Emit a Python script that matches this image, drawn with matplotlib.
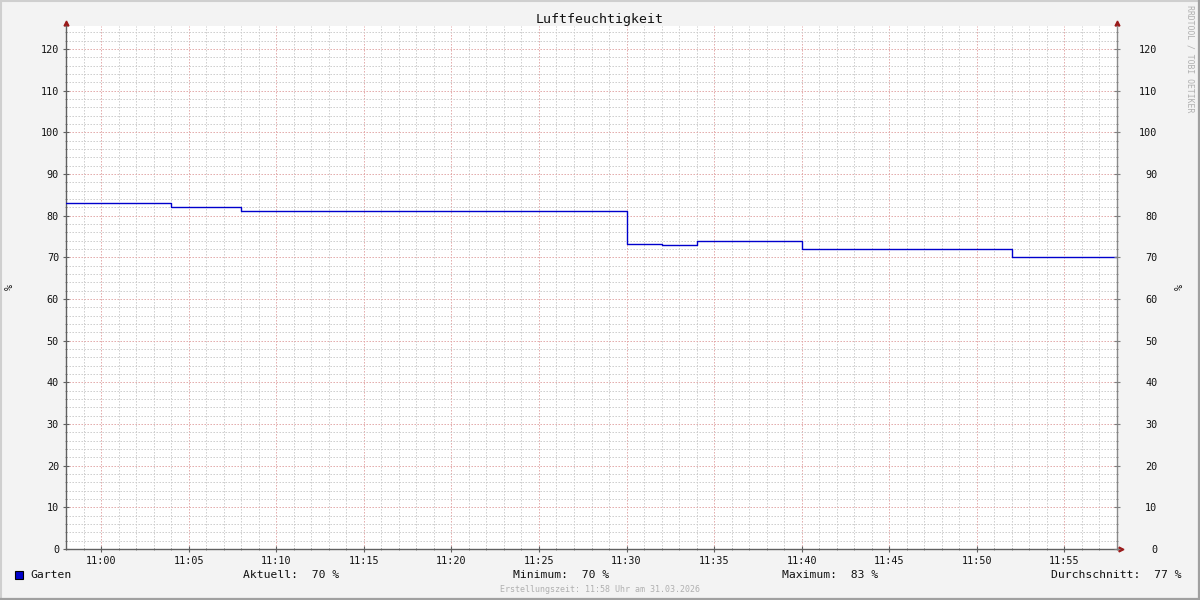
import matplotlib
matplotlib.use("Agg")
import matplotlib.pyplot as plt
import matplotlib.dates as mdates
import matplotlib.transforms as mtransforms
from matplotlib.patches import Rectangle
from matplotlib.ticker import MultipleLocator
import pandas as pd

# ---- data ----
title = "Luftfeuchtigkeit"
series_name = "Garten"
unit = "%"
day = "2026-03-31 "
step_times = ["10:58", "11:04", "11:08", "11:30", "11:32", "11:34", "11:40", "11:52", "11:58"]
step_values = [83.0, 82.0, 81.0, 73.2, 73.0, 73.8, 72.0, 70.0, 70.0]
x_start, x_end = "10:58", "11:58"
y_max = 125.5
stat_labels = ["Aktuell:", "Minimum:", "Maximum:", "Durchschnitt:"]
footer = "Erstellungszeit: 11:58 Uhr am 31.03.2026"
watermark = "RRDTOOL / TOBI OETIKER"

mono = "DejaVu Sans Mono"
plt.rcParams['font.family'] = mono

t = pd.to_datetime([day + s for s in step_times])
tn = mdates.date2num(t)

fig = plt.figure(figsize=(12, 6), dpi=100, facecolor="#F3F3F3")
# border frame
fig.add_artist(plt.Line2D([0, 1], [0.9985, 0.9985], transform=fig.transFigure, color="#CFCFCF", linewidth=1.5))
fig.add_artist(plt.Line2D([0.0008, 0.0008], [0, 1], transform=fig.transFigure, color="#CFCFCF", linewidth=1.5))
fig.add_artist(plt.Line2D([0, 1], [0.0015, 0.0015], transform=fig.transFigure, color="#A0A0A0", linewidth=1.6))
fig.add_artist(plt.Line2D([0.9992, 0.9992], [0, 1], transform=fig.transFigure, color="#A0A0A0", linewidth=1.6))

ax = fig.add_axes([66/1200, 51/600, 1051/1200, 523/600])
ax.set_facecolor("white")

x0 = mdates.date2num(pd.Timestamp(day + x_start))
x1 = mdates.date2num(pd.Timestamp(day + x_end))
ax.set_xlim(x0, x1)
ax.set_ylim(0, y_max)

ax.step(tn, step_values, where="post", color="#0000CC", linewidth=1.0, zorder=5)

# grid
ax.xaxis.set_major_locator(mdates.MinuteLocator(byminute=range(0, 60, 5)))
ax.xaxis.set_minor_locator(mdates.MinuteLocator())
ax.xaxis.set_major_formatter(mdates.DateFormatter("%H:%M"))
ax.yaxis.set_major_locator(MultipleLocator(10))
ax.yaxis.set_minor_locator(MultipleLocator(2))
ax.grid(which="minor", color="#CBCBCB", linestyle=(0, (1.4, 1.6)), linewidth=0.72)
ax.grid(which="major", color="#E2A6A6", linestyle=(0, (1.4, 1.6)), linewidth=0.72)
ax.set_axisbelow(True)

ax.spines["top"].set_visible(False)
ax.spines["left"].set_color("#606060")
ax.spines["bottom"].set_color("#606060")
ax.spines["right"].set_color("#8A8A8A")
for s in ["left", "bottom", "right"]:
    ax.spines[s].set_linewidth(1.0)

ax.tick_params(axis="both", which="major", direction="inout", length=4, width=0.8,
               color="#606060", labelsize=7.3, labelcolor="#111111")
ax.tick_params(axis="both", which="minor", direction="inout", length=2, width=0.6, color="#808080")
ax.tick_params(axis="y", which="major", pad=3)
ax.tick_params(axis="x", which="major", pad=3)

# right axis
axr = ax.twinx()
axr.set_ylim(ax.get_ylim())
axr.yaxis.set_major_locator(MultipleLocator(10))
axr.yaxis.set_minor_locator(MultipleLocator(2))
for s in ["top", "left", "bottom", "right"]:
    axr.spines[s].set_visible(False)
axr.tick_params(axis="y", which="major", direction="inout", length=4, width=0.8, color="#808080",
                labelsize=7.3, labelcolor="#111111", pad=27)
axr.tick_params(axis="y", which="minor", direction="inout", length=2, width=0.6, color="#808080")
for lab in axr.get_yticklabels():
    lab.set_horizontalalignment("right")

# arrows
arrow_c = "#9A1A1A"
off_up = mtransforms.offset_copy(ax.transAxes, fig=fig, x=0, y=3, units="dots")
ax.plot([0], [1], marker="^", markersize=3.5, color=arrow_c, transform=off_up, clip_on=False)
ax.plot([1], [1], marker="^", markersize=3.5, color=arrow_c, transform=off_up, clip_on=False)
off_rt = mtransforms.offset_copy(ax.transAxes, fig=fig, x=4, y=0, units="dots")
ax.plot([1], [0], marker=">", markersize=3.5, color=arrow_c, transform=off_rt, clip_on=False)

# title, unit labels
fig.text(600/1200, 1 - 19/600, title, ha="center", va="center", fontsize=9.5, color="#111111")
fig.text(10/1200, 1 - 287/600, unit, rotation=90, ha="center", va="center", fontsize=7.3, color="#111111")
fig.text(1180/1200, 1 - 287/600, unit, rotation=90, ha="center", va="center", fontsize=7.3, color="#111111")
fig.text(1190/1200, 1 - 5/600, watermark, rotation=270, ha="center", va="top", fontsize=5.9, color="#B0B0B0")

# legend
fig.add_artist(Rectangle((15/1200, 1 - 579/600), 8/1200, 8/600, transform=fig.transFigure,
                         facecolor="#0000CC", edgecolor="#000000", linewidth=0.8))
fig.text(30/1200, 1 - 575/600, series_name, ha="left", va="center", fontsize=8.2, color="#111111")

vals = step_values[:-1]
durs = [(t[i + 1] - t[i]).total_seconds() for i in range(len(vals))]
avg = sum(v * d for v, d in zip(vals, durs)) / sum(durs)
stats = [step_values[-1], min(step_values), max(step_values), avg]
stat_x = [243, 513, 782, 1051]
for lab, v, xp in zip(stat_labels, stats, stat_x):
    fig.text(xp/1200, 1 - 575/600, f"{lab}  {v:.0f} {unit}", ha="left", va="center",
             fontsize=8.2, color="#111111")

fig.text(600/1200, 1 - 589/600, footer, ha="center", va="center", fontsize=6.0, color="#B0B0B0")

fig.savefig("out.png", dpi=100, facecolor=fig.get_facecolor())
